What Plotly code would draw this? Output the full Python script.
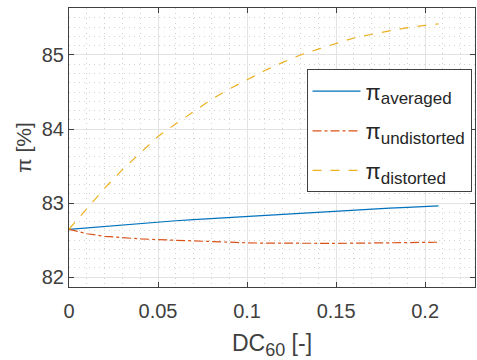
import plotly.graph_objects as go

# ---- data ----
dc60 = [0, 0.005, 0.01, 0.02, 0.03, 0.04, 0.05, 0.06, 0.07, 0.08, 0.09, 0.10,
        0.11, 0.12, 0.13, 0.14, 0.15, 0.16, 0.17, 0.18, 0.19, 0.20, 0.2075]
pi_averaged = [82.645, 82.655, 82.665, 82.69, 82.71, 82.73, 82.745, 82.76, 82.775,
               82.79, 82.805, 82.82, 82.835, 82.85, 82.865, 82.88, 82.895, 82.91,
               82.92, 82.93, 82.94, 82.95, 82.96]
pi_undistorted = [82.645, 82.61, 82.585, 82.55, 82.53, 82.515, 82.505, 82.495, 82.485,
                  82.475, 82.467, 82.462, 82.458, 82.455, 82.454, 82.454, 82.455,
                  82.457, 82.46, 82.463, 82.466, 82.468, 82.47]
pi_distorted = [82.645, 82.78, 82.92, 83.2, 83.45, 83.68, 83.9, 84.07, 84.24, 84.4,
                84.54, 84.67, 84.79, 84.9, 85.0, 85.08, 85.16, 85.23, 85.28, 85.33,
                85.37, 85.40, 85.42]

subs = ["averaged", "undistorted", "distorted"]
colors = ["#0072BD", "#D95319", "#EDB120"]
dashes = ["solid", "dashdot", "dash"]

x_ticks = [0, 0.05, 0.1, 0.15, 0.2]
x_ticktext = ["0", "0.05", "0.1", "0.15", "0.2"]
y_ticks = [82, 83, 84, 85]

fig = go.Figure()
for sub, ys, c, d in zip(subs, [pi_averaged, pi_undistorted, pi_distorted], colors, dashes):
    name = "π<sub><span style='font-size:17px'>%s</span></sub>" % sub
    fig.add_trace(go.Scatter(x=dc60, y=ys, mode="lines", name=name, legendgroup=sub,
                             line=dict(color=c, width=1.2, dash=d)))

FONT = "Liberation Sans, Arial, sans-serif"
axcol = "#404040"

common = dict(
    showline=True, linecolor=axcol, linewidth=1, mirror="ticks",
    ticks="inside", ticklen=5, tickcolor=axcol,
    showgrid=True, gridcolor="#e3e3e3", gridwidth=1,
    zeroline=False,
    tickfont=dict(family=FONT, size=20, color=axcol),
)
minor_common = dict(showgrid=True, gridcolor="#d2d2d2", griddash="1px,4px", ticks="")

fig.update_xaxes(range=[0, 0.228], tickvals=x_ticks, ticktext=x_ticktext,
                 ticklabelstandoff=6,
                 title=dict(text="DC<sub><span style='font-size:18px'>60</span></sub> [-]",
                            font=dict(family=FONT, size=23, color=axcol), standoff=14),
                 minor=dict(dtick=0.01, tick0=0, **minor_common),
                 **common)
fig.update_yaxes(range=[81.865, 85.635], tickvals=y_ticks,
                 title=dict(text="π [%]", font=dict(family=FONT, size=21, color=axcol), standoff=4),
                 minor=dict(dtick=0.125, tick0=82, **minor_common),
                 **common)

fig.update_layout(
    width=477, height=360,
    margin=dict(l=69, r=2, t=8, b=73),
    paper_bgcolor="white", plot_bgcolor="white",
    font=dict(family=FONT, color=axcol),
    showlegend=True,
    legend=dict(x=0.585, y=0.78, xanchor="left", yanchor="top",
                bgcolor="white", bordercolor=axcol, borderwidth=1,
                font=dict(family=FONT, size=22, color="#262626"),
                itemwidth=48, tracegroupgap=8),
)

fig.write_html("out.html")
